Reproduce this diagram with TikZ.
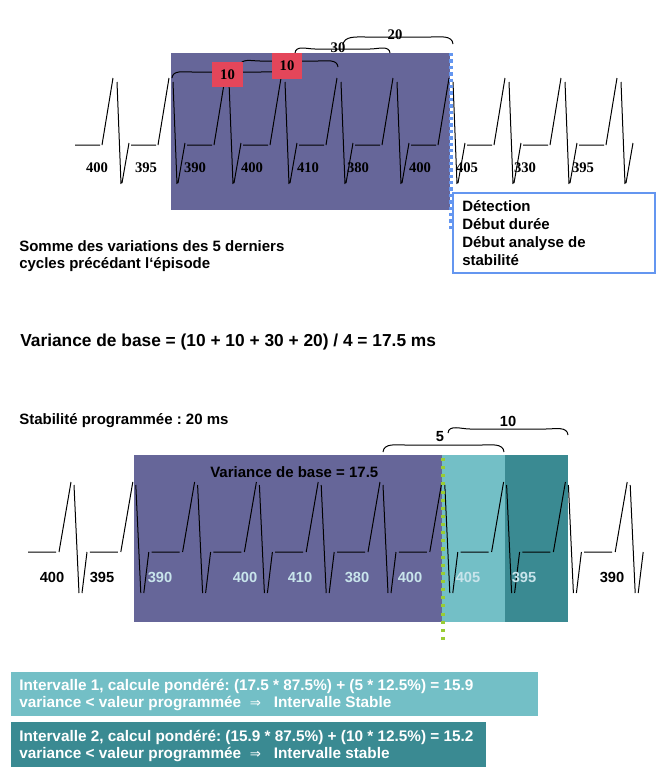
\documentclass[tikz,border=0pt]{standalone}
\usepackage{fontspec}
\setmainfont{Liberation Sans}
\newfontfamily\chiffreserif{Liberation Serif}
\newfontfamily\symboles{DejaVu Sans}
\usepackage{tikz}
\frenchspacing

\definecolor{violetbase}{RGB}{102,102,153}
\definecolor{tealclair}{RGB}{115,191,198}
\definecolor{tealfonce}{RGB}{58,138,146}
\definecolor{rougevar}{RGB}{228,70,90}
\definecolor{bleudetect}{RGB}{100,150,240}
\definecolor{vertpoint}{RGB}{153,204,51}
\definecolor{etiqpale}{RGB}{200,228,235}

\begin{document}
\begin{tikzpicture}[
    x=0.75pt, y=0.75pt,
    ecg/.style={
        line width=0.75pt,
        black
    },
    accol/.style={
        line width=0.75pt,
        black
    },
    chiffre/.style={
        inner sep=0pt,
        font=\chiffreserif\bfseries\fontsize{11}{13}\selectfont
    },
    chiffrebas/.style={
        inner sep=0pt,
        font=\bfseries\fontsize{11}{13}\selectfont
    },
    ecart/.style={
        fill=rougevar,
        inner sep=0pt,
        font=\chiffreserif\bfseries\fontsize{11}{13}\selectfont
    },
    texte/.style={
        anchor=west,
        align=left,
        inner sep=0pt,
        font=\bfseries\fontsize{11.25}{12.75}\selectfont
    },
    calcul/.style={
        anchor=west,
        align=left,
        inner sep=0pt,
        text=white,
        font=\bfseries\fontsize{11.5}{12.75}\selectfont
    }
]

\useasboundingbox (0,0) rectangle (665,-782);

% ============================================================
% TRACE DU HAUT
% ============================================================

\fill[violetbase] (171,-53) rectangle (450,-210);

\foreach \k in {0,...,9} {
    \pgfmathsetmacro\X{113+56*\k}
    \draw[ecg] (\X-38,-145) -- (\X-13,-145)
               (\X-11,-145) -- (\X,-78)
               (\X+4,-82) -- (\X+8,-184)
               (\X+9,-183) -- (\X+16,-143);
}

\foreach \x/\v [count=\i] in {97/400,146/395,195/390,252/400,308/410,
                              358/380,420/400,467/405,525/330,583/395} {
    \node[chiffre] (h\i) at (\x,-168) {\v};
}

% accolades
\draw[accol] (172,-78) to[out=85,in=180] (192,-72) -- (261,-72)
             to[out=0,in=95] (281,-78);
\draw[accol] (240,-66) to[out=85,in=180] (260,-61) -- (318,-61)
             to[out=0,in=95] (338,-67);
\draw[accol] (295,-53) to[out=85,in=180] (315,-49) -- (370,-49)
             to[out=0,in=95] (390,-53);
\draw[accol] (343,-45) to[out=85,in=180] (365,-37) -- (431,-37)
             to[out=0,in=95] (453,-44);

\node[ecart, minimum width=23.25pt, minimum height=18.75pt] (e1) at (227.5,-74.5) {10};
\node[ecart, minimum width=22.5pt, minimum height=19.5pt] (e2) at (287,-66) {10};
\node[chiffre] (e3) at (338,-48) {30};
\node[chiffre] (e4) at (395,-35) {20};

% detection
\draw[bleudetect, line width=2.8pt, dash pattern=on 2.6pt off 2.2pt] (451,-53) -- (451,-232);
\draw[bleudetect, line width=1.3pt, fill=white] (453,-193) rectangle (655,-273);
\node[texte, font=\bfseries\fontsize{11.25}{13.5}\selectfont] (detect) at (462,-233)
    {Détection\\Début durée\\Début analyse de\\stabilité};

% ============================================================
% TEXTES DU MILIEU
% ============================================================

\node[texte] (somme) at (19,-256.5)
    {Somme des variations des 5 derniers\\cycles précédant l‘épisode};
\node[texte, font=\bfseries\fontsize{13}{15}\selectfont] (varbase) at (20,-342)
    {Variance de base = (10 + 10 + 30 + 20) / 4 = 17.5 ms};
\node[texte] (stab) at (19,-421) {Stabilité programmée : 20 ms};

% ============================================================
% TRACE DU BAS
% ============================================================

\fill[violetbase] (134,-455) rectangle (442,-622);
\fill[tealclair] (442,-455) rectangle (505,-622);
\fill[tealfonce] (505,-455) rectangle (568,-622);

\node[texte] (vb) at (210,-472) {Variance de base = 17.5};

\foreach \k in {0,...,9} {
    \pgfmathsetmacro\X{71+61.8*\k}
    \draw[ecg] (\X-43,-552) -- (\X-15,-552)
               (\X-12,-552) -- (\X,-482)
               (\X+3,-485) -- (\X+8,-593)
               (\X+11,-593) -- (\X+16,-552);
}

\foreach \x/\v/\c [count=\i] in {52/400/black,102/395/black,160/390/etiqpale,
                                 245/400/etiqpale,300/410/etiqpale,357/380/etiqpale,
                                 410/400/etiqpale,468/405/etiqpale,524/395/etiqpale,
                                 612/390/black} {
    \node[chiffrebas, text=\c] (b\i) at (\x,-577) {\v};
}

\draw[vertpoint, line width=2.3pt, dash pattern=on 2.3pt off 3.8pt] (443,-458) -- (443,-643);

% accolades
\draw[accol] (383,-452) to[out=85,in=180] (405,-445) -- (482,-445)
             to[out=0,in=95] (504,-452);
\draw[accol] (448,-433) to[out=85,in=180] (470,-429) -- (546,-429)
             to[out=0,in=95] (568,-435);
\node[chiffrebas] (v5) at (440,-437) {5};
\node[chiffrebas] (v10) at (508,-421) {10};

% ============================================================
% CALCULS
% ============================================================

\fill[tealclair] (11,-672) rectangle (538,-716);
\fill[tealfonce] (11,-722) rectangle (486,-767);

\node[calcul] (int1) at (19,-694.5)
    {Intervalle 1, calcule pondéré: (17.5 * 87.5\%) + (5 * 12.5\%) = 15.9\\
     variance < valeur programmée \ {\symboles\mdseries\fontsize{10}{12}\selectfont ⇒} \ \ Intervalle Stable};
\node[calcul] (int2) at (19,-745.5)
    {Intervalle 2, calcul pondéré: (15.9 * 87.5\%) + (10 * 12.5\%) = 15.2\\
     variance < valeur programmée \ {\symboles\mdseries\fontsize{10}{12}\selectfont ⇒} \ \ Intervalle stable};

\end{tikzpicture}
\end{document}
